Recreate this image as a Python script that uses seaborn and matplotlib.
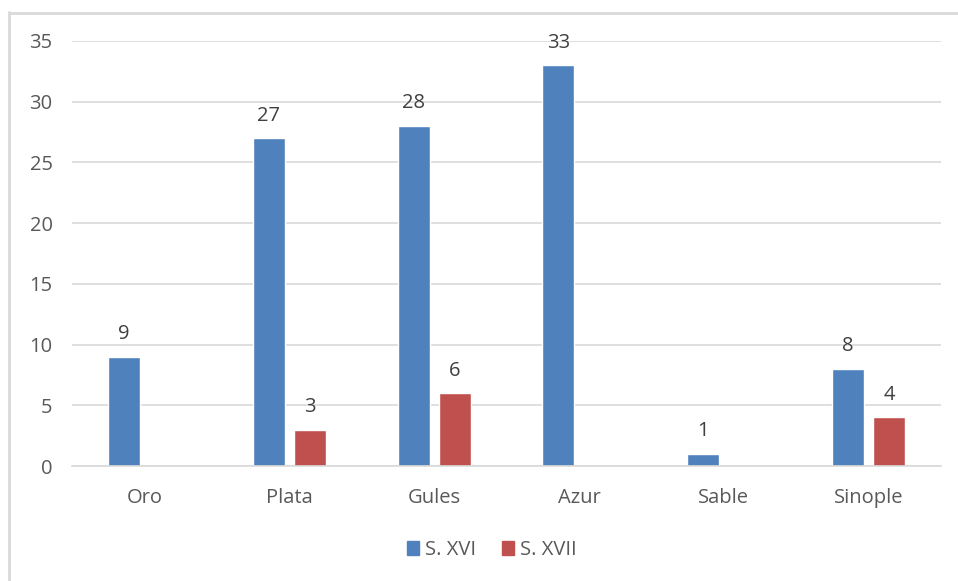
import matplotlib
matplotlib.use("Agg")
import matplotlib.pyplot as plt
import seaborn as sns
import pandas as pd
from matplotlib.lines import Line2D

categories = ["Oro", "Plata", "Gules", "Azur", "Sable", "Sinople"]
s_xvi = [9, 27, 28, 33, 1, 8]
s_xvii = [0, 3, 6, 0, 0, 4]
series_names = ["S. XVI", "S. XVII"]
colors = ["#4F81BD", "#C0504D"]
yticks = [0, 5, 10, 15, 20, 25, 30, 35]

df = pd.DataFrame({
    "cat": categories * 2,
    "val": s_xvi + s_xvii,
    "series": [series_names[0]] * len(categories) + [series_names[1]] * len(categories),
})

sns.set_theme(style="white")
plt.rcParams["font.family"] = ["Open Sans", "DejaVu Sans"]

W, H = 958, 581
fig = plt.figure(figsize=(W / 100, H / 100), dpi=100)
ax = fig.add_axes([72 / W, (H - 466) / H, (941 - 72) / W, (466 - 41) / H])

sns.barplot(data=df, x="cat", y="val", hue="series", palette=colors,
            width=0.567, gap=0.22, ax=ax, legend=False, saturation=1,
            order=categories, hue_order=series_names, errorbar=None)

ax.set_ylim(0, 35)
ax.set_xlim(-0.5, len(categories) - 0.5)
ax.set_yticks(yticks)
ax.set_yticklabels([str(t) for t in yticks])
ax.set_xlabel("")
ax.set_ylabel("")
ax.grid(axis="y", color="#d9d9d9", linewidth=1.2)
ax.set_axisbelow(True)
for s in ["top", "right", "left"]:
    ax.spines[s].set_visible(False)
ax.spines["bottom"].set_color("#d9d9d9")
ax.spines["bottom"].set_linewidth(1.2)
ax.tick_params(axis="both", length=0, colors="#595959", labelsize=14.5)
ax.tick_params(axis="y", pad=14)
ax.tick_params(axis="x", pad=16)

for cont in ax.containers:
    labels = [f"{v:g}" if v > 0 else "" for v in cont.datavalues]
    ax.bar_label(cont, labels=labels, padding=9, color="#404040", fontsize=14.5, clip_on=False)

handles = [plt.Rectangle((0, 0), 1, 1, color=c) for c in colors]
fig.legend(handles, series_names, loc="center", bbox_to_anchor=(492 / W, 1 - 550 / H),
           ncol=2, frameon=False, fontsize=14.5, handlelength=0.6, handleheight=0.68,
           handletextpad=0.3, columnspacing=1.3, labelcolor="#595959")

# chart border (left and top visible)
fig.add_artist(Line2D([8.5 / W, 8.5 / W], [0, 1 - 12 / H], transform=fig.transFigure,
                      color="#d9d9d9", linewidth=2))
fig.add_artist(Line2D([8.5 / W, 1], [1 - 12.5 / H, 1 - 12.5 / H], transform=fig.transFigure,
                      color="#d9d9d9", linewidth=2))

fig.savefig("out.png", dpi=100, facecolor="white")
